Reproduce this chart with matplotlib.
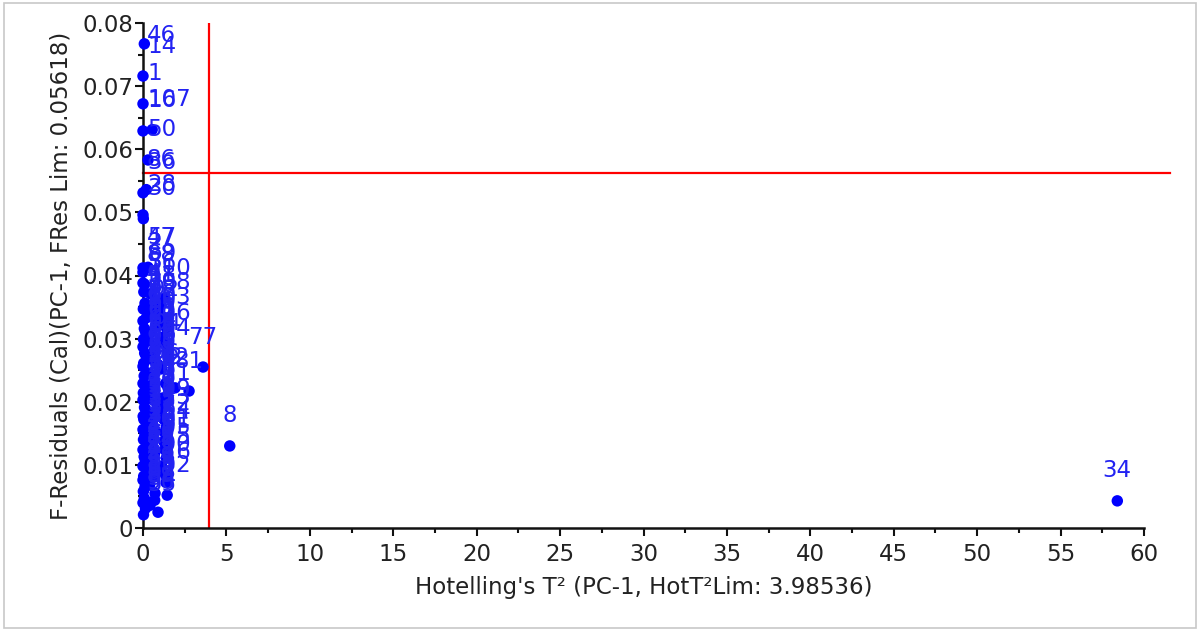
import matplotlib
matplotlib.use("Agg")
import matplotlib.pyplot as plt
from matplotlib.patches import Rectangle

# ---- data ----
x_top = [0.08, 0.00, 0.00, 0.00, 0.55, 0.30, 0.00, 0.20, 0.00, 0.02, 0.00, 0.30, 0.00, 0.10]
y_top = [0.0767, 0.0716, 0.0672, 0.0629, 0.0631, 0.0583, 0.0531, 0.0536, 0.0496, 0.0490,
         0.0412, 0.0413, 0.0388, 0.0386]
lab_top = ["46", "14", "1", "16", "107", "50", "36", "86", "28", "30", "57", "47", "69", "88"]

x_out = [3.60, 2.76, 1.92, 5.20, 58.4]
y_out = [0.0255, 0.0217, 0.0222, 0.0130, 0.0043]
lab_out = ["77", "81", "62", "8", "34"]

x_c3 = [1.30, 0.90, 1.40, 1.20, 1.50, 1.30, 1.40, 1.35, 1.45, 1.25, 1.10, 1.33]
y_c3 = [0.0364, 0.0341, 0.0317, 0.0293, 0.0269, 0.0124, 0.0111, 0.0084, 0.0052,
        0.0172, 0.0198, 0.0150]
lab_c3 = ["110", "108", "103", "106", "104", "101", "105", "100", "102", "109", "111", "112"]

x_a = [0.00, 0.05, 0.12, 0.02, 0.20, 0.00, 0.08, 0.15, 0.03, 0.25, 0.00, 0.10, 0.18, 0.04,
       0.00, 0.22, 0.07, 0.00, 0.13, 0.02, 0.28, 0.00, 0.09, 0.16, 0.01, 0.05, 0.21, 0.00,
       0.11, 0.03, 0.19, 0.00, 0.07, 0.14, 0.00, 0.24, 0.04, 0.00, 0.12, 0.02, 0.08, 0.00,
       0.15, 0.03]
y_a = [0.0405, 0.0374, 0.0356, 0.0347, 0.0333, 0.0328, 0.0316, 0.0311, 0.0299, 0.0296,
       0.0287, 0.0277, 0.0273, 0.0261, 0.0256, 0.0246, 0.0241, 0.0229, 0.0226, 0.0214,
       0.0210, 0.0203, 0.0191, 0.0188, 0.0177, 0.0172, 0.0161, 0.0156, 0.0146, 0.0140,
       0.0129, 0.0124, 0.0113, 0.0108, 0.0098, 0.0092, 0.0082, 0.0076, 0.0065, 0.0058,
       0.0047, 0.0040, 0.0031, 0.0021]
lab_a = ["2", "3", "4", "5", "6", "7", "9", "10", "11", "12", "13", "15", "17", "18",
         "19", "20", "21", "22", "23", "24", "25", "26", "27", "29", "31", "32", "33", "35",
         "37", "38", "39", "40", "41", "42", "43", "44", "45", "48", "49", "51", "52", "53",
         "54", "55"]

x_b = [0.45, 0.62, 0.38, 0.80, 0.52, 0.35, 0.70, 0.48, 0.90, 0.40, 0.65, 0.55, 0.33, 0.85,
       0.60, 0.42, 0.75, 0.50, 0.36, 0.68, 0.45, 0.88, 0.58, 0.39, 0.72, 0.70, 0.42, 0.90]
y_b = [0.0371, 0.0352, 0.0339, 0.0322, 0.0311, 0.0297, 0.0283, 0.0268, 0.0259, 0.0244,
       0.0232, 0.0219, 0.0205, 0.0196, 0.0181, 0.0169, 0.0154, 0.0141, 0.0128, 0.0117,
       0.0103, 0.0094, 0.0081, 0.0068, 0.0055, 0.0044, 0.0036, 0.0025]
lab_b = ["56", "58", "59", "60", "61", "63", "64", "65", "66", "67", "68", "70", "71", "72",
         "73", "74", "75", "76", "78", "79", "80", "82", "83", "84", "85", "87", "89", "90"]

x_c = [1.05, 1.30, 1.15, 1.45, 1.10, 1.35, 1.20, 1.50, 1.08, 1.40, 1.25, 1.12, 1.38]
y_c = [0.0352, 0.0331, 0.0302, 0.0277, 0.0252, 0.0229, 0.0206, 0.0222, 0.0183, 0.0160,
       0.0137, 0.0098, 0.0072]
lab_c = ["91", "92", "93", "94", "95", "96", "97", "98", "99", "113", "114", "115", "116"]

hot_lim = 3.98536
fres_lim = 0.05618
xlabel = "Hotelling's T\u00b2 (PC-1, HotT\u00b2Lim: 3.98536)"
ylabel = "F-Residuals (Cal)(PC-1, FRes Lim: 0.05618)"

xs = x_top + x_out + x_c3 + x_a + x_b + x_c
ys = y_top + y_out + y_c3 + y_a + y_b + y_c
labs = lab_top + lab_out + lab_c3 + lab_a + lab_b + lab_c

# ---- figure ----
plt.rcParams['font.family'] = ['DejaVu Sans']
FS = 16.5
fig = plt.figure(figsize=(11.99, 6.30), dpi=100)
ax = fig.add_axes([143 / 1199, 102 / 630, 1001 / 1199, 505 / 630])

ax.set_xlim(0, 60)
ax.set_ylim(0, 0.08)

ax.scatter(xs, ys, s=68, color='#0000ff', edgecolors='none', zorder=3, clip_on=False)

ax.axvline(hot_lim, ymin=0, ymax=1, color='#ff0000', lw=1.6, zorder=2)
ax.plot([0, 61.55], [fres_lim, fres_lim], color='#ff0000', lw=1.6, zorder=2, clip_on=False)

for s in ['top', 'right']:
    ax.spines[s].set_visible(False)
for s in ['left', 'bottom']:
    ax.spines[s].set_linewidth(1.8)
    ax.spines[s].set_color('#111111')

ax.set_xticks(range(0, 61, 5))
ax.set_xticks([2.5 + 5 * i for i in range(12)], minor=True)
ax.set_yticks([0.01 * i for i in range(9)])
ax.set_yticklabels(["0", "0.01", "0.02", "0.03", "0.04", "0.05", "0.06", "0.07", "0.08"])
ax.set_yticks([0.005 + 0.01 * i for i in range(8)], minor=True)
ax.tick_params(which='major', direction='out', length=6, width=1.5, labelsize=FS,
               colors='#111111', labelcolor='#222222')
ax.tick_params(axis='x', which='major', pad=5)
ax.tick_params(axis='y', which='major', pad=1)
ax.tick_params(which='minor', direction='out', length=3.5, width=1.5, colors='#111111')

ax.set_xlabel(xlabel, fontsize=FS, color='#222222', labelpad=7)
ax.set_ylabel(ylabel, fontsize=FS, color='#222222', labelpad=7)

# point labels: centred 30 px above the point, kept inside the plot area
fig.canvas.draw()
renderer = fig.canvas.get_renderer()
ax_bb = ax.get_window_extent(renderer)
texts = []
for x, y, lab in zip(xs, ys, labs):
    t = ax.annotate(lab, (x, y), xytext=(0, 30), textcoords='offset pixels',
                    ha='center', va='center', fontsize=FS, color='#2222f2',
                    zorder=4, annotation_clip=False)
    texts.append(t)
fig.canvas.draw()
for t in texts:
    bb = t.get_window_extent(renderer)
    dx, dy = 0, 30
    if bb.x0 < ax_bb.x0 + 4:
        dx = ax_bb.x0 + 4 - bb.x0
    if bb.y1 > ax_bb.y1 - 1:
        dy = 30 - (bb.y1 - (ax_bb.y1 - 1))
    t.xyann = (dx, dy)

fig.patches.append(Rectangle((4 / 1199, 2 / 630), 1192 / 1199, 625 / 630,
                             transform=fig.transFigure, fill=False,
                             edgecolor='#c8c8c8', lw=1.2))

fig.savefig("out.png", dpi=100)
